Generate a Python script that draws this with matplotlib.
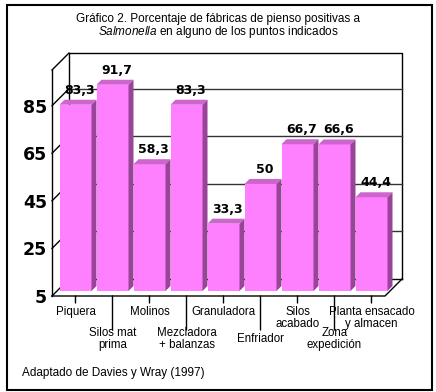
import matplotlib
matplotlib.use("Agg")
import matplotlib.pyplot as plt
from matplotlib.patches import Polygon, Rectangle
from matplotlib.transforms import ScaledTranslation
from matplotlib.lines import Line2D

plt.rcParams['mathtext.fontset'] = 'custom'
plt.rcParams['mathtext.it'] = 'Liberation Sans:italic'
plt.rcParams['mathtext.rm'] = 'Liberation Sans'

categories = ["Piquera", "Silos mat\nprima", "Molinos", "Mezcladora\n+ balanzas",
              "Granuladora", "Enfriador", "Silos\nacabado", "Zona\nexpedición",
              "Planta ensacado\ny almacen"]
values = [83.3, 91.7, 58.3, 83.3, 33.3, 50, 66.7, 66.6, 44.4]
value_labels = ["83,3", "91,7", "58,3", "83,3", "33,3", "50", "66,7", "66,6", "44,4"]
yticks = [5, 25, 45, 65, 85]
ymin, ymax = 5, 100

W, H, DPI = 436, 392, 100
fig = plt.figure(figsize=(W / DPI, H / DPI), dpi=DPI)

# front plane of the pseudo-3D box (pixels)
L, R, T, B = 52, 385, 70, 296
ax = fig.add_axes([L / W, 1 - B / H, (R - L) / W, (B - T) / H])
n = len(categories)
ax.set_xlim(-0.5, n - 0.5)
ax.set_ylim(ymin, ymax)
ax.axis('off')

xppu = (R - L) / n
yppu = (B - T) / (ymax - ymin)

def off(dx, dy):
    return ax.transData + ScaledTranslation(dx / DPI, dy / DPI, fig.dpi_scale_trans)

line_kw = dict(color='black', lw=1.0, clip_on=False)
x0, x1 = -0.5, n - 0.5
back = off(17, 17)
# back wall
ax.add_line(Line2D([x0, x0, x1, x1], [ymin, ymax, ymax, ymin], transform=back, zorder=1, **line_kw))
ax.add_line(Line2D([x0, x1], [ymin, ymin], transform=back, zorder=1, **line_kw))
for t in yticks[1:]:
    ax.add_line(Line2D([x0, x1], [t, t], transform=back, zorder=1, color='#333333', lw=1.0, clip_on=False))
# left wall diagonals
dxb, dyb = 17 / xppu, 17 / yppu
for t in yticks + [ymax]:
    ax.add_line(Line2D([x0, x0 + dxb], [t, t + dyb], transform=ax.transData, zorder=1, **line_kw))
# front axis and floor
ax.add_line(Line2D([x0, x0], [ymin, ymax], zorder=6, **line_kw))
ax.add_line(Line2D([x0, x1, x1 + dxb], [ymin, ymin, ymin + dyb], zorder=6, **line_kw))

# bars (set back by 5 px in depth)
bar_tr = off(5, 5)
bw = 32 / xppu
dd = 5
ddx, ddy = dd / xppu, dd / yppu
front_c, top_c, side_c = '#FF80FF', '#CC66CC', '#994499'
for i, v in enumerate(values):
    xl, xr = i - bw / 2, i + bw / 2
    ax.add_patch(Rectangle((xl, ymin), bw, v - ymin, facecolor=front_c, edgecolor='none',
                           transform=bar_tr, zorder=3, clip_on=False))
    ax.add_patch(Polygon([(xl, v), (xr, v), (xr + ddx, v + ddy), (xl + ddx, v + ddy)],
                         closed=True, facecolor=top_c, edgecolor='none',
                         transform=bar_tr, zorder=3, clip_on=False))
    ax.add_patch(Polygon([(xr, ymin), (xr + ddx, ymin + ddy), (xr + ddx, v + ddy), (xr, v)],
                         closed=True, facecolor=side_c, edgecolor='none',
                         transform=bar_tr, zorder=3, clip_on=False))
    ax.annotate(value_labels[i], xy=(i, v), xycoords=bar_tr, xytext=(4, 8),
                textcoords='offset pixels', ha='center', va='bottom',
                fontsize=9, fontweight='bold', family='DejaVu Sans', zorder=5,
                annotation_clip=False)

# bottom ticks and category labels
tick_tr = ax.get_xaxis_transform() + ScaledTranslation(5 / DPI, 0, fig.dpi_scale_trans)
for i, c in enumerate(categories):
    length = 7 if i % 2 == 0 else 34
    tr_end = tick_tr + ScaledTranslation(0, -length / DPI, fig.dpi_scale_trans)
    ax.annotate('', xy=(i, 0), xycoords=tick_tr, xytext=(i, 0), textcoords=tr_end,
                arrowprops=dict(arrowstyle='-', color='black', lw=1.0, shrinkA=0, shrinkB=0),
                annotation_clip=False)
    if i % 2 == 0:
        ax.annotate(c, xy=(i, 0), xycoords=tick_tr, xytext=(0, -10), textcoords='offset pixels',
                    ha='center', va='top', fontsize=8.3, family='Liberation Sans',
                    linespacing=1.0, annotation_clip=False)
    else:
        ax.annotate(c, xy=(i, 0), xycoords=tick_tr, xytext=(0, -43), textcoords='offset pixels',
                    ha='center', va='center', fontsize=8.3, family='Liberation Sans',
                    linespacing=1.0, annotation_clip=False)

# y tick labels
for t in yticks:
    ax.annotate(str(t), xy=(x0, t), xycoords='data', xytext=(-5, -2), textcoords='offset pixels',
                ha='right', va='center', fontsize=12.5, fontweight='bold',
                family='DejaVu Sans', annotation_clip=False)

# title
fig.text(0.5, 1 - 19 / H, "Gráfico 2. Porcentaje de fábricas de pienso positivas a",
         ha='center', va='center', fontsize=8.5, family='Liberation Sans')
fig.text(0.5, 1 - 32.5 / H, r"$\it{Salmonella}$ en alguno de los puntos indicados",
         ha='center', va='center', fontsize=8.5, family='Liberation Sans')
fig.text(22 / W, 1 - 373 / H, "Adaptado de Davies y Wray (1997)",
         ha='left', va='center', fontsize=8.5, family='Liberation Sans')

# outer border
fig.add_artist(Rectangle((7 / W, 1 - 390 / H), (432 - 7) / W, (390 - 5) / H,
                         transform=fig.transFigure, fill=False, edgecolor='black', lw=1.5))

fig.savefig("out.png", dpi=DPI)
